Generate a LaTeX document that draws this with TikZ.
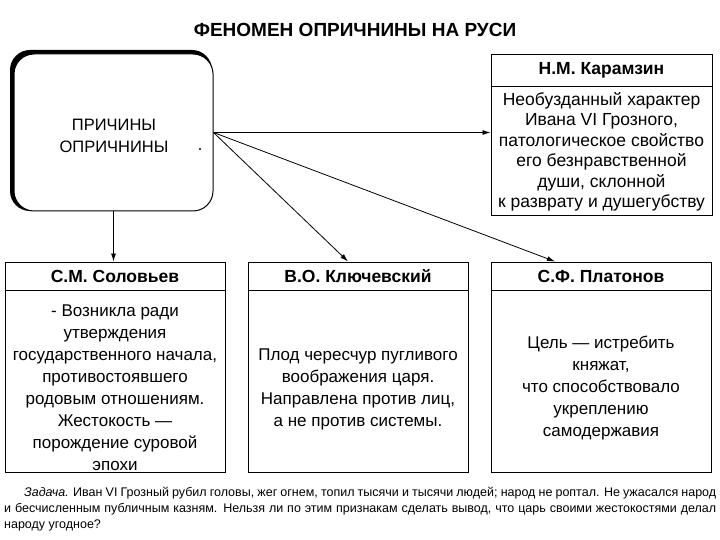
\documentclass[tikz,border=0pt]{standalone}
\usepackage{fontspec}
\setmainfont{Liberation Sans}
\usetikzlibrary{arrows.meta}
\begin{document}
\begin{tikzpicture}[x=1pt,y=-1pt,
  box/.style={draw, line width=1pt, minimum width=220pt, minimum height=210pt, inner sep=0pt},
  hdr/.style={font=\fontsize{17.5}{19}\bfseries\selectfont, inner sep=0pt},
  body/.style={font=\fontsize{17}{22}\selectfont, align=center, inner sep=0pt},
  arr/.style={-{Latex[length=8pt,width=5pt]}, line width=0.8pt}]
\useasboundingbox (0,0) rectangle (720,540);
\fill[white] (0,0) rectangle (720,540);
% title
\node[font=\fontsize{19}{21}\bfseries\selectfont] (title) at (355,30) {ФЕНОМЕН ОПРИЧНИНЫ НА РУСИ};
% main box
\fill[black, rounded corners=20pt] (10,50) rectangle (212,211);
\node[draw, line width=1pt, fill=white, rounded corners=20pt, minimum width=199pt, minimum height=157pt, inner sep=0pt] (main) at (113.5,132.5) {};
\node[body, font=\fontsize{16.5}{22}\selectfont] (maintxt) at (114,136) {ПРИЧИНЫ\\ОПРИЧНИНЫ};
\fill (200,149) circle (1.2pt);
% Karamzin
\node[box, minimum width=221pt, minimum height=161pt] (kar) at (601.5,135.5) {};
\draw[line width=1pt] ([yshift=-32pt]kar.north west) -- ([yshift=-32pt]kar.north east);
\node[hdr] (karh) at ([yshift=-16pt]kar.north) {Н.М. Карамзин};
\node[body, font=\fontsize{17.5}{20.5}\selectfont] (karb) at (601.5,152) {Необузданный характер\\Ивана VI Грозного,\\патологическое свойство\\его безнравственной\\души, склонной\\к разврату и душегубству};
% bottom boxes
\node[box] (sol) at (115,367) {};
\node[box] (klu) at (358,367) {};
\node[box] (pla) at (601,367) {};
\foreach \b in {sol,klu,pla}
  \draw[line width=1pt] ([yshift=-29pt]\b.north west) -- ([yshift=-29pt]\b.north east);
\node[hdr] (solh) at ([yshift=-15pt]sol.north) {С.М. Соловьев};
\node[hdr] (kluh) at ([yshift=-15pt]klu.north) {В.О. Ключевский};
\node[hdr] (plah) at ([yshift=-15pt]pla.north) {С.Ф. Платонов};
\node[body] (solb) at (115,388) {- Возникла ради\\утверждения\\государственного начала,\\противостоявшего\\родовым отношениям.\\Жестокость —\\порождение суровой\\эпохи};
\node[body] (klub) at (358,389) {Плод чересчур пугливого\\воображения царя.\\Направлена против лиц,\\а не против системы.};
\node[body] (plab) at (601,388) {Цель — истребить\\княжат,\\что способствовало\\укреплению\\самодержавия};
% arrows
\coordinate (kluend) at ([xshift=-10pt]klu.north);
\coordinate (plaend) at ([xshift=-46pt]pla.north);
\draw[arr] (main.east) -- (main.east -| kar.west);
\draw[arr] (main.east) -- (kluend);
\draw[arr] (main.east) -- (plaend);
\draw[arr] (main.south) -- (main.south |- sol.north);
% task
\node[anchor=north west, text width=712pt, align=justify, inner sep=0pt, font=\fontsize{12.5}{16}\selectfont] (task) at (4,487)
 {\hspace*{20pt}\textit{Задача.} Иван VI Грозный рубил головы, жег огнем, топил тысячи и тысячи людей; народ не роптал. Не ужасался народ и бесчисленным публичным казням. Нельзя ли по этим признакам сделать вывод, что царь своими жестокостями делал народу угодное?};
\end{tikzpicture}
\end{document}
